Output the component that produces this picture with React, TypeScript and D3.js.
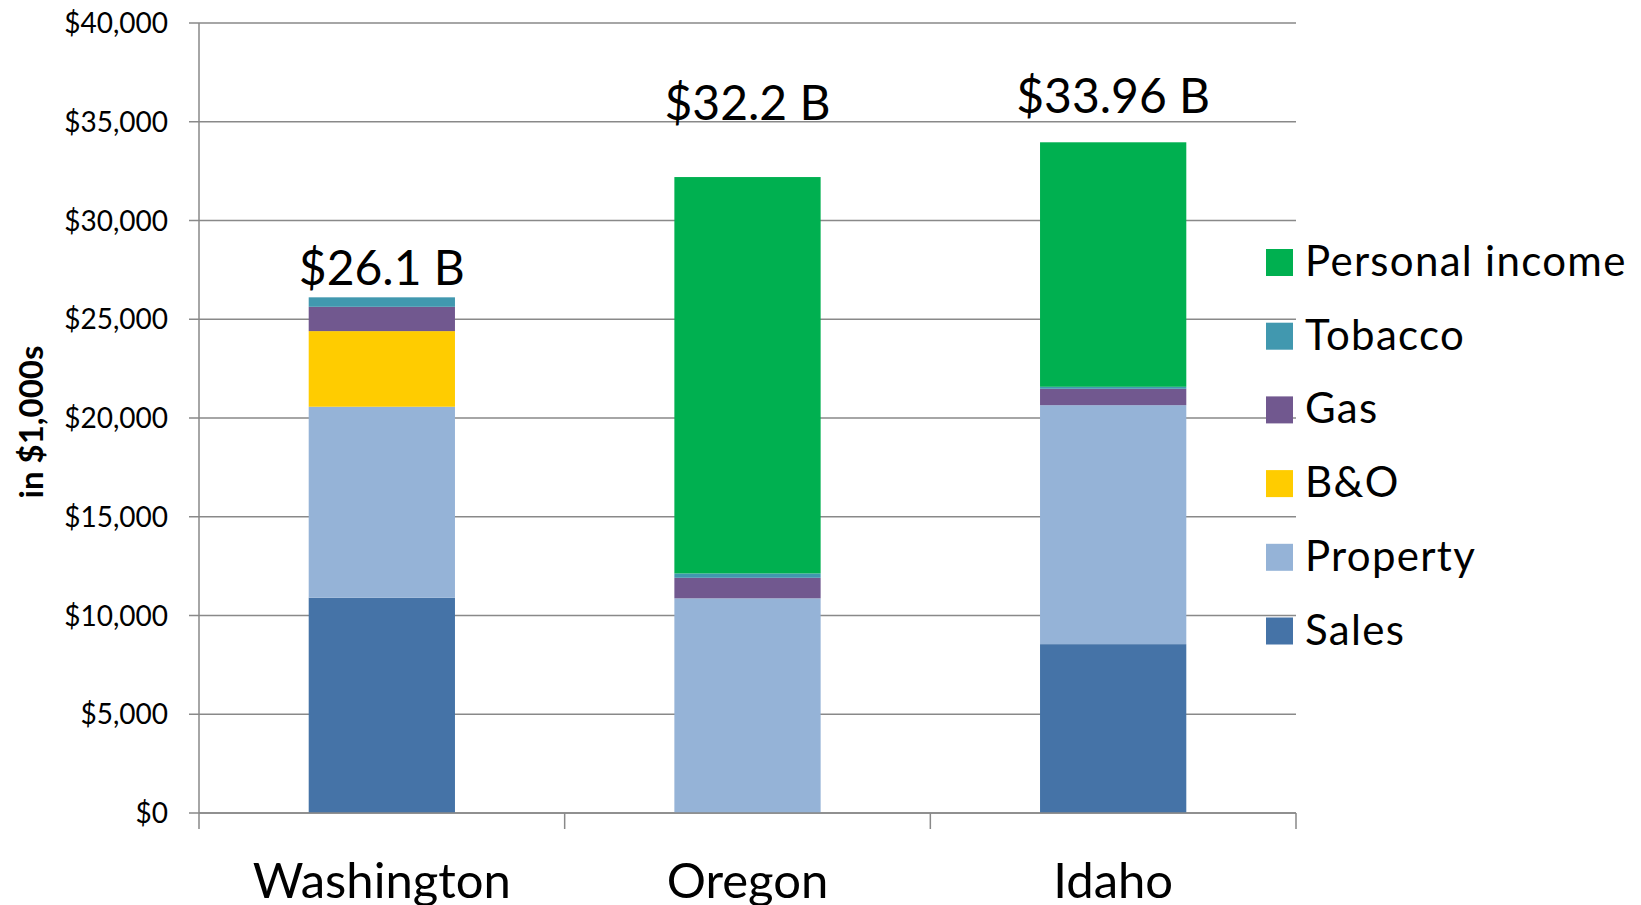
import React, { useEffect, useRef } from 'react';
import * as d3 from 'd3';

const categories = ['Washington', 'Oregon', 'Idaho'];

// values in $1,000s, bottom of the stack first
const sales = [10900, 0, 8550];
const property = [9670, 10870, 12100];
const bAndO = [3830, 0, 0];
const gas = [1230, 1040, 830];
const tobacco = [480, 220, 100];
const personalIncome = [0, 20070, 12380];

const totalLabels = ['$26.1 B', '$32.2 B', '$33.96 B'];
const yTicks = [0, 5000, 10000, 15000, 20000, 25000, 30000, 35000, 40000];

const seriesNames = ['Sales', 'Property', 'B&O', 'Gas', 'Tobacco', 'Personal income'];
const seriesColors = ['#4573A7', '#95B3D7', '#FFCC00', '#71588F', '#4198AF', '#00B050'];

const W = 1641;
const H = 905;
const margin = { top: 23, bottom: 92, left: 199, right: 345 };
const FONT = 'Lato, "Open Sans", sans-serif';
// the total labels are hand placed text boxes, not at a fixed gap above the bar
const labelGap = [12, 57, 29];

function drawChart(node: SVGSVGElement) {
  const svg = d3.select(node);
  svg.selectAll('*').remove();

  const table = categories.map((c, i) => ({
    category: c,
    Sales: sales[i],
    Property: property[i],
    'B&O': bAndO[i],
    Gas: gas[i],
    Tobacco: tobacco[i],
    'Personal income': personalIncome[i]
  }));

  const stacked = d3.stack<any>().keys(seriesNames)(table);

  const x = d3
    .scaleBand()
    .domain(categories)
    .range([margin.left, W - margin.right])
    .paddingInner(0.6)
    .paddingOuter(0.3);

  const y = d3
    .scaleLinear()
    .domain([0, 40000])
    .range([H - margin.bottom, margin.top]);

  const color = d3.scaleOrdinal<string>().domain(seriesNames).range(seriesColors);
  const plotRight = W - margin.right;
  const step = x.step();

  // gridlines + outward ticks
  svg
    .append('g')
    .attr('stroke', '#898989')
    .attr('stroke-width', 1.5)
    .selectAll('line')
    .data(yTicks)
    .join('line')
    .attr('x1', margin.left - 10)
    .attr('x2', plotRight)
    .attr('y1', d => y(d))
    .attr('y2', d => y(d));

  svg
    .append('g')
    .style('font-family', FONT)
    .style('font-size', '28px')
    .attr('fill', '#000')
    .attr('text-anchor', 'end')
    .selectAll('text')
    .data(yTicks)
    .join('text')
    .attr('x', margin.left - 31)
    .attr('y', d => y(d))
    .attr('dy', '0.36em')
    .text(d => `$${d3.format(',')(d)}`);

  // bars
  svg
    .append('g')
    .selectAll('g')
    .data(stacked)
    .join('g')
    .attr('fill', d => color(d.key))
    .selectAll('rect')
    .data(d => d)
    .join('rect')
    .attr('x', d => x(d.data.category) as number)
    .attr('width', x.bandwidth())
    .attr('y', d => y(d[1]))
    .attr('height', d => y(d[0]) - y(d[1]));

  // axes lines
  const axis = svg.append('g').attr('stroke', '#898989').attr('stroke-width', 1.5);
  axis
    .append('line')
    .attr('x1', margin.left)
    .attr('x2', margin.left)
    .attr('y1', y(40000))
    .attr('y2', y(0) + 16);
  axis
    .append('line')
    .attr('x1', margin.left)
    .attr('x2', plotRight)
    .attr('y1', y(0))
    .attr('y2', y(0));
  axis
    .selectAll('line.tick')
    .data(categories)
    .join('line')
    .attr('class', 'tick')
    .attr('x1', (_, i) => margin.left + step * (i + 1))
    .attr('x2', (_, i) => margin.left + step * (i + 1))
    .attr('y1', y(0))
    .attr('y2', y(0) + 16);

  svg
    .append('g')
    .style('font-family', FONT)
    .style('font-size', '49px')
    .attr('text-anchor', 'middle')
    .selectAll('text')
    .data(categories)
    .join('text')
    .attr('x', d => (x(d) as number) + x.bandwidth() / 2)
    .attr('y', 898)
    .text(d => d);

  // totals above bars
  const totals = categories.map((_, i) => sales[i] + property[i] + bAndO[i] + gas[i] + tobacco[i] + personalIncome[i]);
  svg
    .append('g')
    .style('font-family', FONT)
    .style('font-size', '48px')
    .attr('text-anchor', 'middle')
    .selectAll('text')
    .data(categories)
    .join('text')
    .attr('x', d => (x(d) as number) + x.bandwidth() / 2)
    .attr('y', (_, i) => y(totals[i]) - labelGap[i])
    .text((_, i) => totalLabels[i]);

  // y-axis title
  svg
    .append('text')
    .attr('transform', 'translate(43, 422) rotate(-90)')
    .attr('text-anchor', 'middle')
    .style('font-family', FONT)
    .style('font-size', '33px')
    .style('font-weight', 700)
    .text('in $1,000s');

  // legend, top to bottom is reverse of stack
  const legendItems = seriesNames.slice().reverse();
  const legend = svg
    .append('g')
    .attr('transform', 'translate(1266, 249)')
    .selectAll('g')
    .data(legendItems)
    .join('g')
    .attr('transform', (_, i) => `translate(0, ${i * 73.7})`);

  legend
    .append('rect')
    .attr('width', 27)
    .attr('height', 27)
    .attr('fill', d => color(d));

  legend
    .append('text')
    .attr('x', 39)
    .attr('y', 27)
    .style('font-family', FONT)
    .style('font-size', '42px')
    .style('letter-spacing', '1.3px')
    .text(d => d);
}

export default function App() {
  const ref = useRef<SVGSVGElement>(null);

  useEffect(() => {
    if (ref.current) drawChart(ref.current);
  }, []);

  return (
    <svg
      ref={ref}
      width={W}
      height={H}
      style={{ position: 'absolute', left: 0, top: 0, background: '#fff', display: 'block' }}
    />
  );
}
